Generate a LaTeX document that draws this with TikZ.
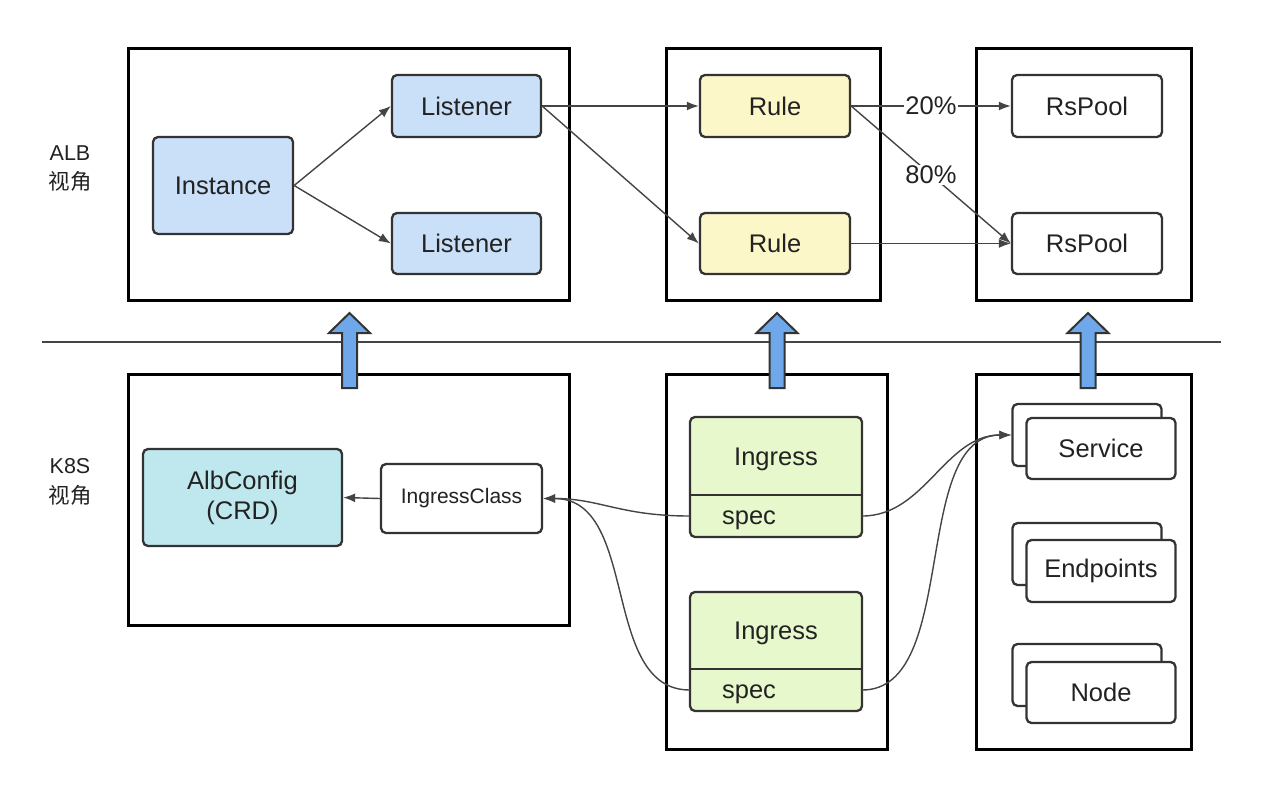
\documentclass[tikz,border=0pt]{standalone}
\usepackage{fontspec}
\setmainfont{Liberation Sans}
\newfontfamily\cjk{Noto Sans CJK SC}
\usetikzlibrary{arrows.meta}
\definecolor{txt}{HTML}{222222}
\definecolor{bord}{HTML}{333333}
\definecolor{lnc}{HTML}{444444}
\definecolor{bluef}{HTML}{C9E0F8}
\definecolor{yelf}{HTML}{FBF7C8}
\definecolor{grnf}{HTML}{E8F8CD}
\definecolor{cyanf}{HTML}{BEE8EE}
\definecolor{arrf}{HTML}{6FA8EA}
\begin{document}
\begin{tikzpicture}[x=1pt,y=-1pt,
  outer/.style={draw=black, line width=3pt, minimum width=#1},
  nd/.style={draw=bord, line width=2.3pt, rounded corners=5pt, text=txt, font=\fontsize{25.5}{29}\selectfont, inner sep=0pt},
  conn/.style={draw=lnc, line width=1.4pt, -{Latex[length=12pt,width=9pt]}},
  lab/.style={text=txt, font=\fontsize{21.5}{24}\selectfont, inner sep=0pt},
  pct/.style={text=txt, fill=white, font=\fontsize{25.5}{29}\selectfont, inner sep=1pt},
  blk/.style={draw=bord, line width=2pt, fill=arrf, line join=miter}
]
\useasboundingbox (0,0) rectangle (1266,798);

% divider line
\draw[lnc, line width=2.2pt] (42,342) -- (1221,342);

% outer boxes
\node[outer=441pt, minimum height=252pt] (ta) at (348.5,174) {};
\node[outer=214pt, minimum height=252pt] (tb) at (773,174) {};
\node[outer=215pt, minimum height=252pt] (tc) at (1083.5,174) {};
\node[outer=441pt, minimum height=251pt] (ba) at (348.5,499.5) {};
\node[outer=221pt, minimum height=375pt] (bb) at (776.5,561.5) {};
\node[outer=215pt, minimum height=375pt] (bc) at (1083.5,561.5) {};

% side labels
\node[lab] (alb) at (70,153) {ALB};
\node[lab] (albz) at (70,181) {\cjk 视角};
\node[lab] (k8s) at (70,466) {K8S};
\node[lab] (k8sz) at (70,495) {\cjk 视角};

% ALB view
\node[nd, fill=bluef, minimum width=140pt, minimum height=97pt] (inst) at (223,185.5) {Instance};
\node[nd, fill=bluef, minimum width=149pt, minimum height=62pt] (lis1) at (466.5,106) {Listener};
\node[nd, fill=bluef, minimum width=149pt, minimum height=61pt] (lis2) at (466.5,243.5) {Listener};
\node[nd, fill=yelf, minimum width=150pt, minimum height=62pt] (rule1) at (775,106) {Rule};
\node[nd, fill=yelf, minimum width=150pt, minimum height=61pt] (rule2) at (775,243.5) {Rule};
\node[nd, fill=white, minimum width=150pt, minimum height=62pt] (rs1) at (1087,106) {RsPool};
\node[nd, fill=white, minimum width=150pt, minimum height=61pt] (rs2) at (1087,243.5) {RsPool};

\draw[conn] (inst.east) -- (lis1.west);
\draw[conn] (inst.east) -- (lis2.west);
\draw[conn] (lis1.east) -- (rule1.west);
\draw[conn] (lis1.east) -- (rule2.west);
\draw[conn] (rule1.east) -- node[pct] (p20) {20\%} (rs1.west);
\draw[conn] (rule1.east) -- node[pct] (p80) {80\%} (rs2.west);
\draw[conn] (rule2.east) -- (rs2.west);

% K8S view
\node[nd, fill=cyanf, minimum width=199pt, minimum height=97pt, align=center] (albc) at (242.5,497.5) {AlbConfig\\[1pt](CRD)};
\node[nd, fill=white, minimum width=161pt, minimum height=69pt, font=\fontsize{21}{24}\selectfont] (icls) at (461.5,498.5) {IngressClass};
\draw[conn] (icls.west) -- (albc.east);

% Ingress 1
\node[nd, fill=grnf, minimum width=172pt, minimum height=120pt] (ing1) at (776,477) {};
\draw[draw=bord, line width=2.3pt] (ing1.west |- 0,495) -- (ing1.east |- 0,495);
\node[nd, draw=none, fill=none] (ing1t) at (776,459) {Ingress};
\node[inner sep=0pt, minimum width=172pt, minimum height=42pt] (spec1) at (776,516) {};
\node[nd, draw=none, fill=none] (spec1t) at (749,520) {spec};

% Ingress 2
\node[nd, fill=grnf, minimum width=172pt, minimum height=119pt] (ing2) at (776,651.5) {};
\draw[draw=bord, line width=2.3pt] (ing2.west |- 0,669) -- (ing2.east |- 0,669);
\node[nd, draw=none, fill=none] (ing2t) at (776,633) {Ingress};
\node[inner sep=0pt, minimum width=172pt, minimum height=42pt] (spec2) at (776,690) {};
\node[nd, draw=none, fill=none] (spec2t) at (749,694) {spec};

% stacked boxes
\node[nd, fill=white, minimum width=149pt, minimum height=62pt] (svcb) at (1087,435) {};
\node[nd, fill=white, minimum width=149pt, minimum height=61pt] (svc) at (1101,448.5) {Service};
\node[nd, fill=white, minimum width=149pt, minimum height=62pt] (epb) at (1087,554) {};
\node[nd, fill=white, minimum width=149pt, minimum height=62pt] (ep) at (1101,571) {Endpoints};
\node[nd, fill=white, minimum width=149pt, minimum height=62pt] (nodb) at (1087,675) {};
\node[nd, fill=white, minimum width=149pt, minimum height=61pt] (nod) at (1101,692.5) {Node};

% curved connectors
\draw[conn] (spec1.east) .. controls (925,516) and (945,435) .. (svcb.west);
\draw[conn] (spec2.east) .. controls (960,690) and (910,435) .. (svcb.west);
\draw[conn] (spec1.west) .. controls (620,516) and (600,498.5) .. (icls.east);
\draw[conn] (spec2.west) .. controls (600,690) and (640,498.5) .. (icls.east);

% block arrows
\foreach \cx/\nm in {349.5/ua, 777/ub, 1088/uc} {
  \draw[blk] (\cx,313) -- (\cx+20.5,333) -- (\cx+7.5,333) -- (\cx+7.5,388)
    -- (\cx-7.5,388) -- (\cx-7.5,333) -- (\cx-20.5,333) -- cycle;
}
\end{tikzpicture}
\end{document}
